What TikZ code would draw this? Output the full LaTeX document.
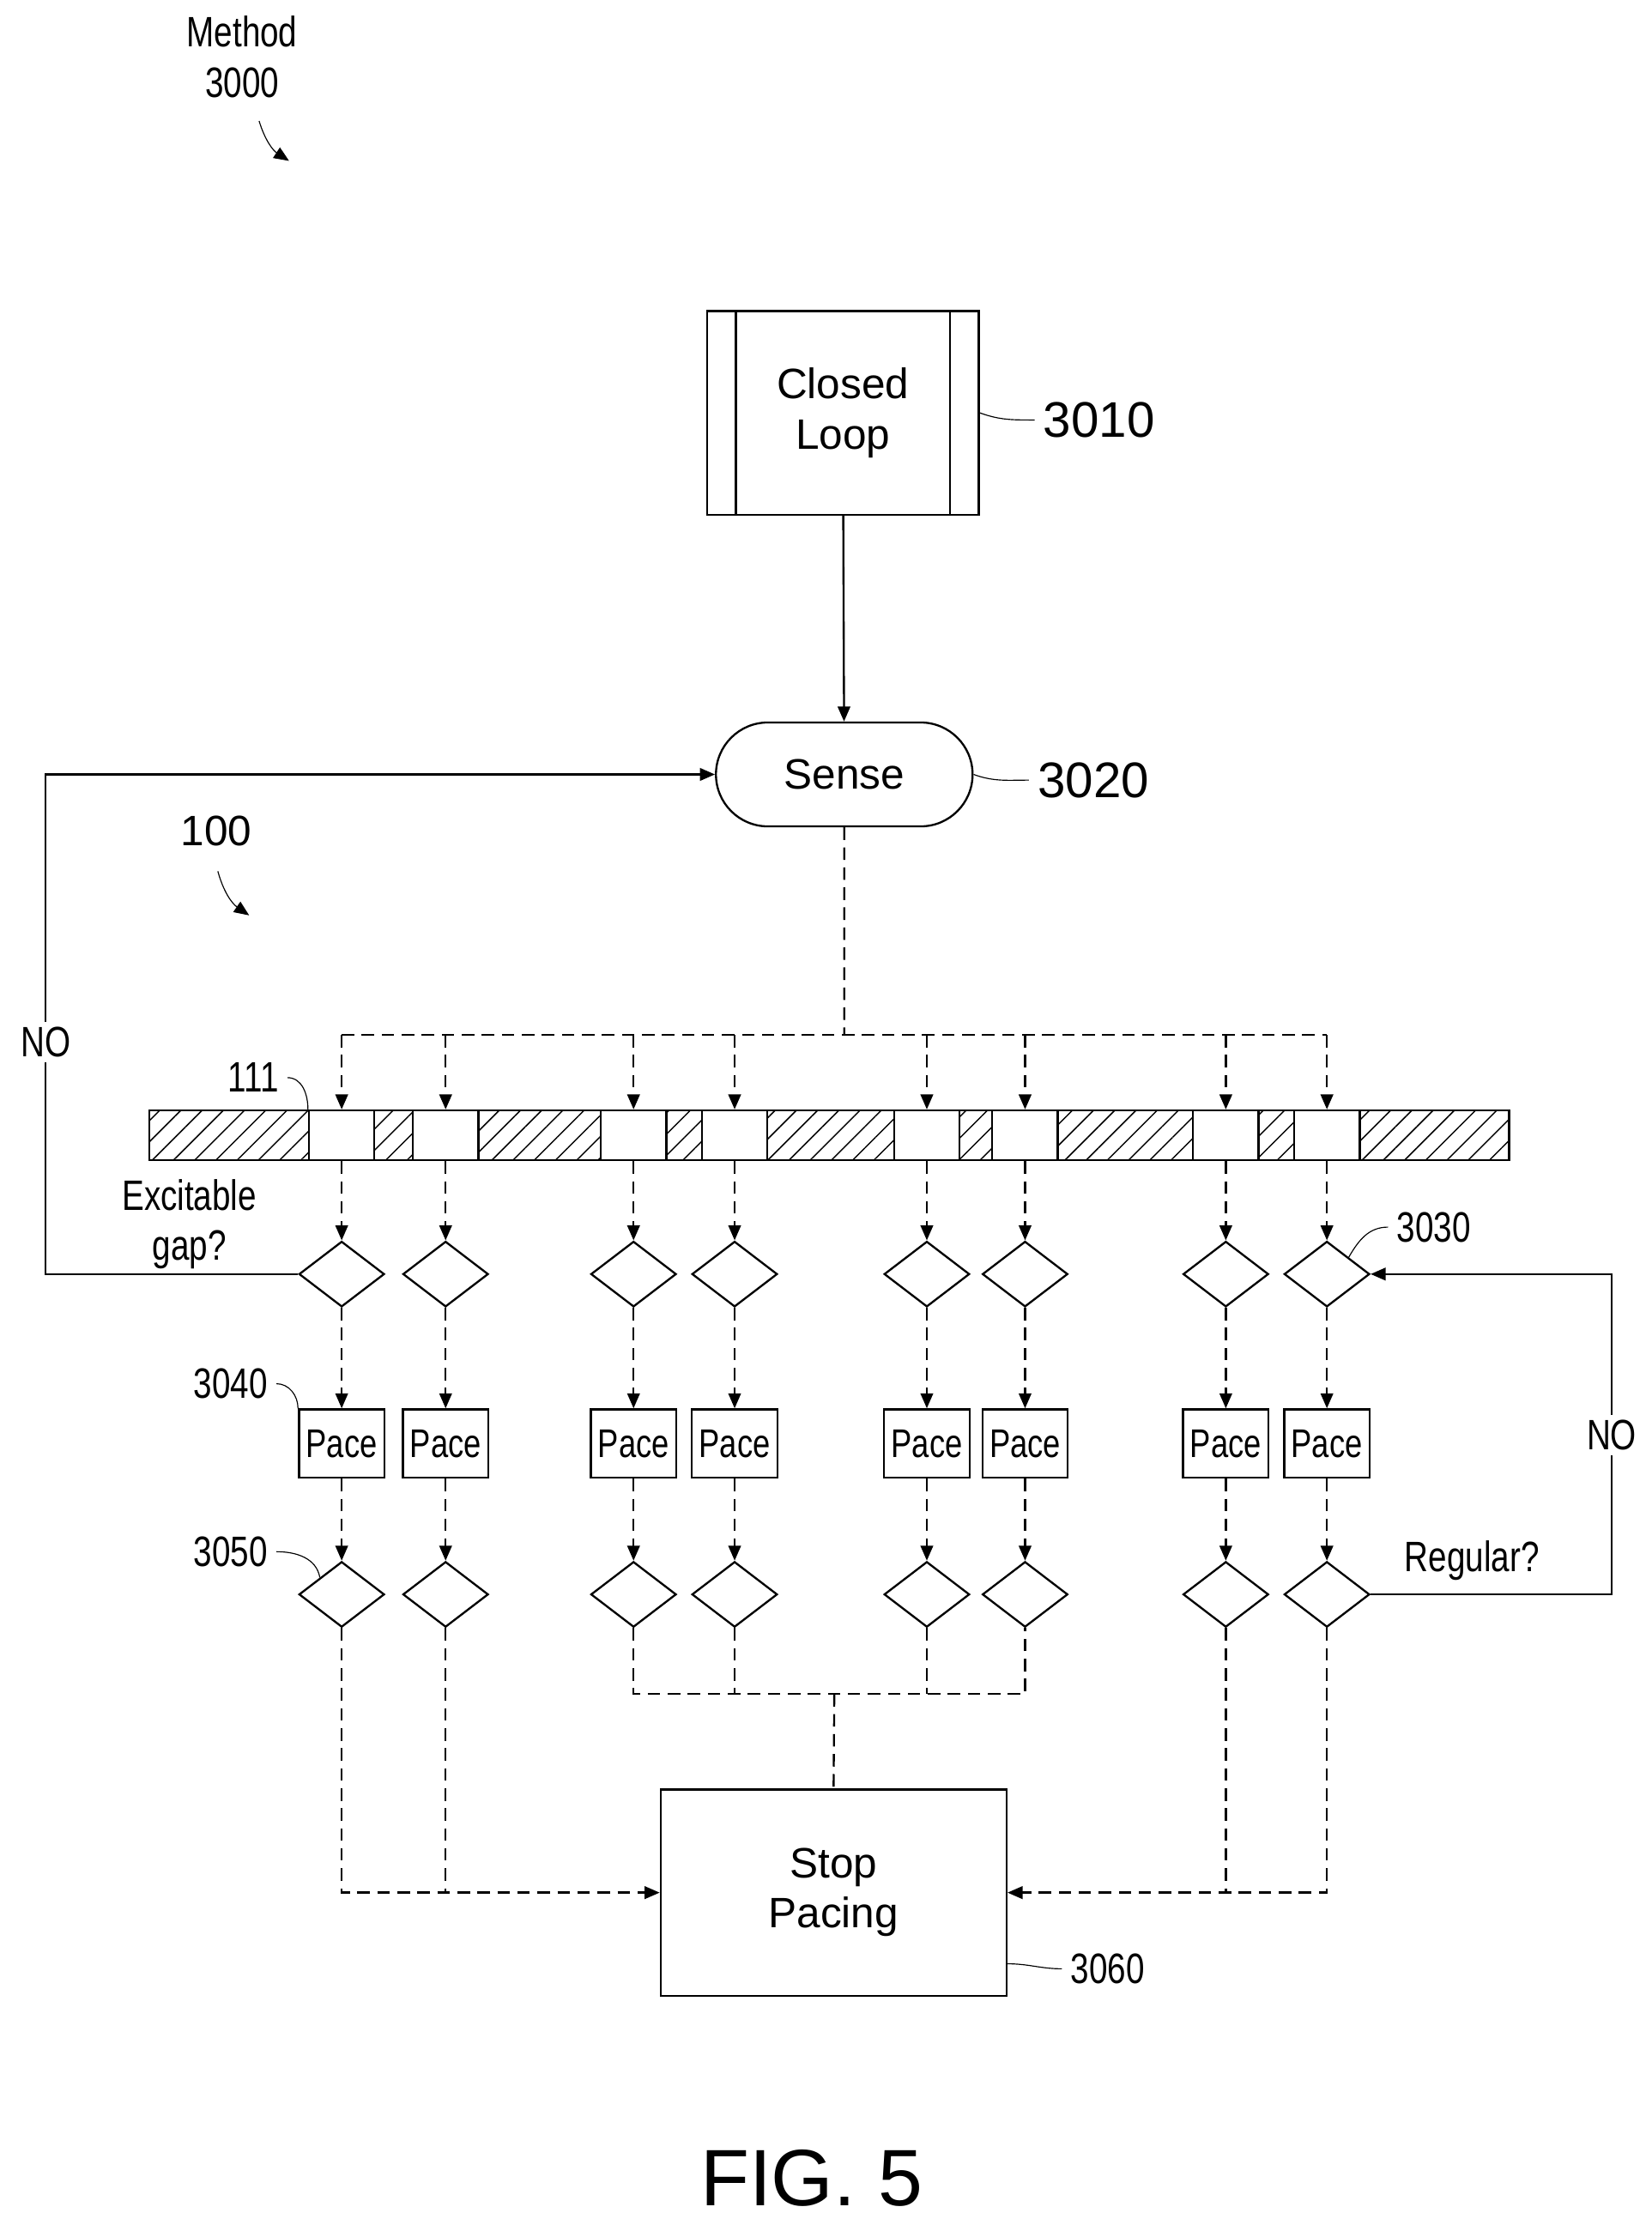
\documentclass[tikz,border=0pt]{standalone}
\usepackage{fontspec}
\setmainfont{Liberation Sans}
\usetikzlibrary{positioning,arrows.meta,shapes.geometric,shapes.misc,patterns.meta}

\tikzset{
  lbl/.style={font=\fontsize{17}{20}\selectfont},
  dec/.style={draw,thick,diamond,aspect=1.3,minimum width=1.2cm,minimum height=0.92cm,inner sep=0pt},
  pace/.style={draw,thick,minimum width=1.2cm,minimum height=0.96cm,inner sep=0pt,font=\fontsize{16}{18}\selectfont},
  dsh/.style={thick,dashed,dash pattern=on 5pt off 3pt},
  arr/.style={-{Triangle[length=6pt,width=5pt]}},
  hatch/.style={pattern={Lines[angle=45,distance=6pt,line width=0.5pt]}},
  lead/.style={thin}
}
\newcommand{\narrow}[1]{\scalebox{0.78}[1]{#1}}

\begin{document}
\begin{tikzpicture}[x=0.02cm,y=-0.02cm]
\useasboundingbox (0,0) rectangle (1160,1563);

% title
\node[lbl,align=center] (method) at (170,40) {\narrow{Method}\\\narrow{3000}};
\draw[arr,thin] (182,85) to[bend right=20] (203,113);

% closed loop
\node[draw,thick,minimum width=3.82cm,minimum height=2.86cm,lbl,align=center] (loop) at (592,290) {Closed\\Loop};
\draw[thick] ([xshift=0.42cm]loop.north west) -- ([xshift=0.42cm]loop.south west);
\draw[thick] ([xshift=-0.42cm]loop.north east) -- ([xshift=-0.42cm]loop.south east);
\node[lbl,font=\fontsize{20}{24}\selectfont] (n3010) at (772,295) {3010};
\draw[lead] (loop.east) to[out=-20,in=180] (n3010.west);

% sense
\node[draw,thick,rounded rectangle,minimum width=3.84cm,minimum height=1.46cm,lbl] (sense) at (593,544) {Sense};
\node[lbl,font=\fontsize{20}{24}\selectfont] (n3020) at (768,548) {3020};
\draw[lead] (sense.east) to[out=-20,in=180] (n3020.west);
\draw[thick,arr] (loop) -- (sense);

\node[lbl] (n100) at (152,584) {100};
\draw[arr,thin] (153,612) to[bend right=20] (175,643);

% bar
\draw[thick,hatch] (105,780) rectangle (1060,815);
\foreach \i/\x in {1/240,2/313,3/445,4/516,5/651,6/720,7/861,8/932} {
  \node[draw,thick,fill=white,minimum width=0.92cm,minimum height=0.7cm,inner sep=0pt] (cell\i) at (\x,797.5) {};
  \node[dec] (ga\i) at (\x,895) {};
  \node[pace] (pace\i) at (\x,1014) {\narrow{Pace}};
  \node[dec] (rg\i) at (\x,1120) {};
  \draw[dsh,arr] (cell\i) -- (ga\i);
  \draw[dsh,arr] (ga\i) -- (pace\i);
  \draw[dsh,arr] (pace\i) -- (rg\i);
}
\coordinate (split) at (593,727);
\draw[dsh] (sense) -- (split);
\draw[dsh] (cell1 |- split) -- (cell8 |- split);
\foreach \i in {1,...,8} \draw[dsh,arr] (cell\i |- split) -- (cell\i);

\node[lbl] (n111) at (178,757) {\narrow{111}};
\draw[lead] (n111.east) to[out=0,in=90] (cell1.north west);

% labels
\node[lbl,align=center] (gapq) at (133,860) {\narrow{Excitable}\\\narrow{gap?}};
\node[lbl] (n3030) at (1007,862) {\narrow{3030}};
\draw[lead] (n3030.west) to[out=180,in=60] (ga8.north east);
\node[lbl] (n3040) at (162,972) {\narrow{3040}};
\draw[lead] (n3040.east) to[out=0,in=90] (pace1.north west);
\node[lbl] (n3050) at (162,1090) {\narrow{3050}};
\draw[lead] (n3050.east) to[out=0,in=100] (rg1.north west);
\node[lbl] (regq) at (1034,1096) {\narrow{Regular?}};

% NO loops
\coordinate (lno) at (32,895);
\draw[thick,arr] (ga1.west) -- (lno) -- (lno |- sense.west) -- (sense.west);
\node[lbl,fill=white,inner sep=2pt] (no1) at (32,732) {\narrow{NO}};
\coordinate (rno) at (1132,1120);
\draw[thick,arr] (rg8.east) -- (rno) -- (rno |- ga8.east) -- (ga8.east);
\node[lbl,fill=white,inner sep=2pt] (no2) at (1132,1008) {\narrow{NO}};

% stop pacing
\node[draw,thick,minimum width=4.86cm,minimum height=2.9cm,lbl,align=center] (stop) at (585.5,1329.5) {Stop\\Pacing};
\node[lbl] (n3060) at (778,1383) {\narrow{3060}};
\draw[lead] ([yshift=-1cm]stop.east) to[out=0,in=180] (n3060.west);
\coordinate (join) at (586,1190);
\draw[dsh,arr] (rg1) -- (rg1 |- stop.west) -- (stop.west);
\draw[dsh] (rg2) -- (rg2 |- stop.west);
\draw[dsh,arr] (rg8) -- (rg8 |- stop.east) -- (stop.east);
\draw[dsh] (rg7) -- (rg7 |- stop.east);
\draw[dsh] (rg3) -- (rg3 |- join) -- (rg6 |- join) -- (rg6);
\draw[dsh] (rg4) -- (rg4 |- join);
\draw[dsh] (rg5) -- (rg5 |- join);
\draw[dsh] (join) -- (stop.north);

\node[font=\fontsize{32}{38}\selectfont] (fig) at (570,1530) {FIG. 5};
\end{tikzpicture}
\end{document}
